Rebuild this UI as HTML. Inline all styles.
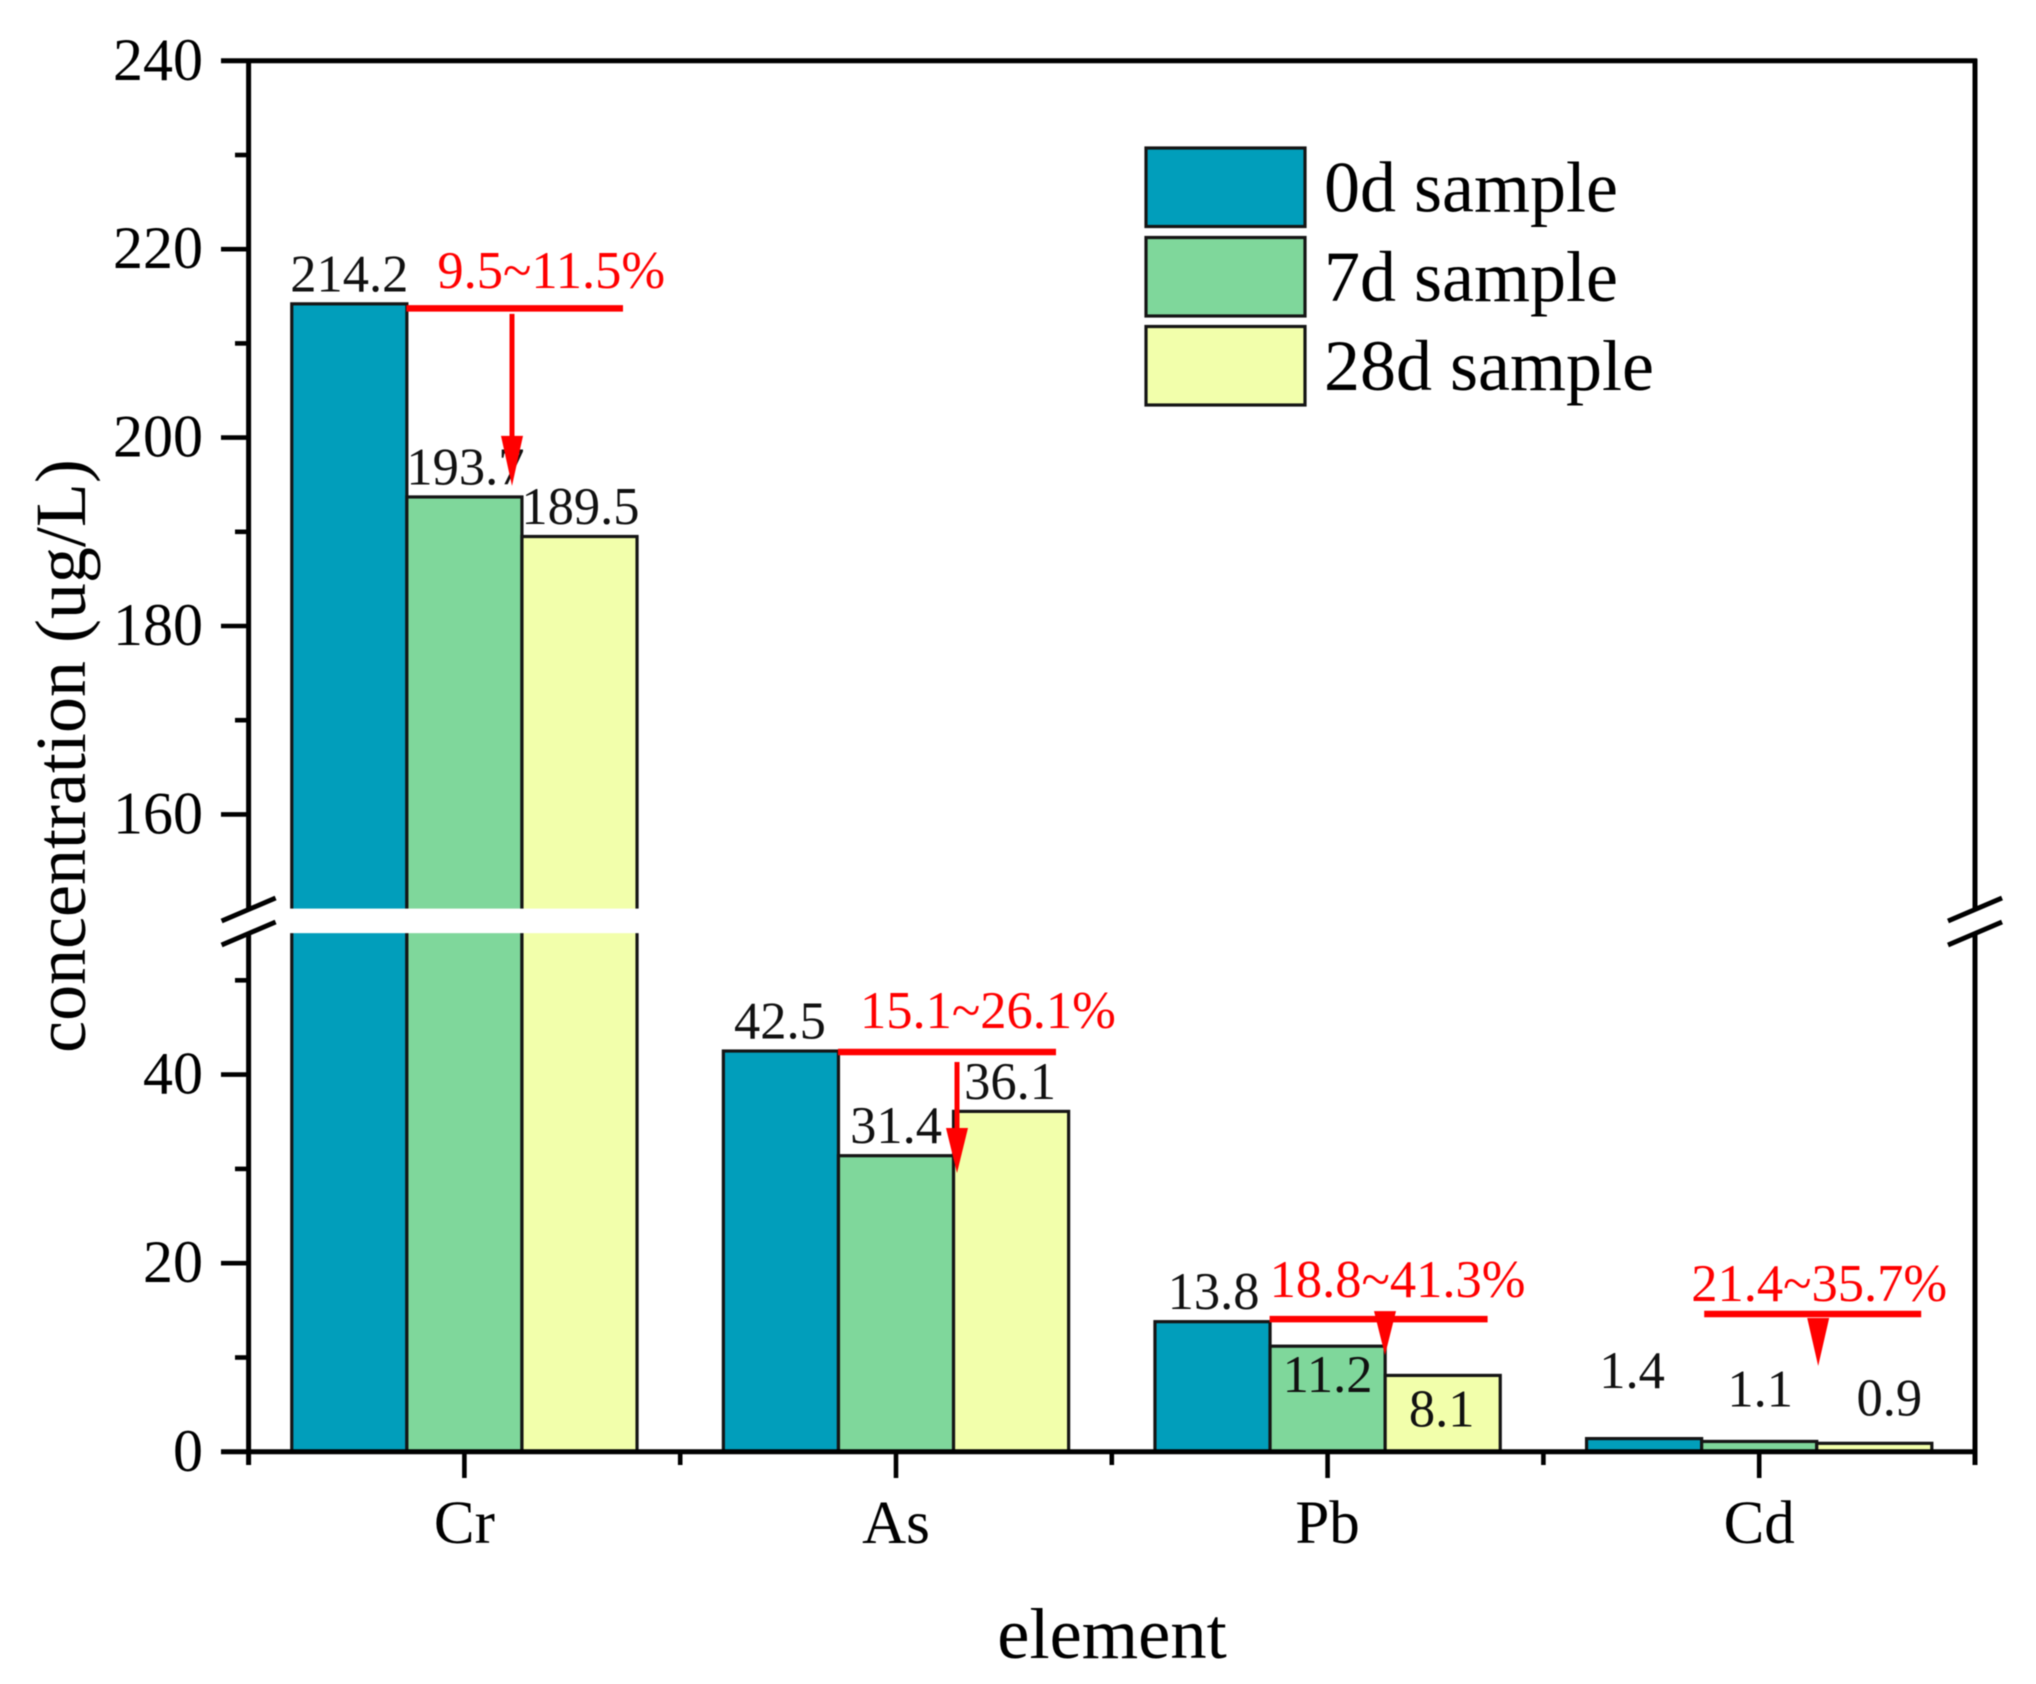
<!DOCTYPE html>
<html lang="en">
<head>
<meta charset="utf-8">
<title>Element concentration by sample age</title>
<style>
  html, body { margin: 0; padding: 0; background: #ffffff; }
  svg { display: block; filter: blur(0.5px); }
  text { font-family: "Liberation Serif", "Times New Roman", serif; fill: #000; }
</style>
</head>
<body>
<svg id="chart" xmlns="http://www.w3.org/2000/svg" width="2036" height="1684" viewBox="0 0 2036 1684">
  <rect x="0" y="0" width="2036" height="1684" fill="#ffffff"/>
  <g id="bars"></g>
  <g id="axes"></g>
  <g id="value-labels"></g>
  <g id="annotations"></g>
  <g id="legend"></g>
  <text x="1112" y="1658" font-size="72.5" text-anchor="middle">element</text>
  <text transform="translate(85,756) rotate(-90)" font-size="72" text-anchor="middle">concentration (ug/L)</text>
</svg>
<script>
// ---- data ----
const categories = ['Cr', 'As', 'Pb', 'Cd'];
const seriesNames = ['0d sample', '7d sample', '28d sample'];
const series0d = [214.2, 42.5, 13.8, 1.4];
const series7d = [193.7, 31.4, 11.2, 1.1];
const series28d = [189.5, 36.1, 8.1, 0.9];
const upperMajorTicks = [240, 220, 200, 180, 160];
const upperMinorTicks = [230, 210, 190, 170];
const lowerMajorTicks = [40, 20, 0];
const lowerMinorTicks = [50, 30, 10];
const reductionLabels = ['9.5~11.5%', '15.1~26.1%', '18.8~41.3%', '21.4~35.7%'];

// ---- layout ----
const NS = 'http://www.w3.org/2000/svg';
const plotLeft = 248.6, plotRight = 1975;
const plotTop = 60.8, plotBottom = 1451.8;
const breakHigh = 150, breakLow = 55;
const upperScale = 9.42, lowerScale = 9.43;
const bandWidth = (plotRight - plotLeft) / categories.length;
const barWidth = bandWidth * 0.8 / 3;
const colors = ['#019ebb', '#7fd79b', '#f2ffab'];
const allSeries = [series0d, series7d, series28d];

function yScale(v) {
  if (v >= breakHigh) return plotTop + (240 - v) * upperScale;
  if (v <= breakLow) return plotBottom - v * lowerScale;
  const a = plotTop + (240 - breakHigh) * upperScale;
  const b = plotBottom - breakLow * lowerScale;
  return a + (breakHigh - v) / (breakHigh - breakLow) * (b - a);
}
function xCenter(i) { return plotLeft + bandWidth * (i + 0.5); }
function barX(i, s) { return xCenter(i) - 1.5 * barWidth + s * barWidth; }

function mk(tag, attrs, parent, text) {
  const e = document.createElementNS(NS, tag);
  for (const k in attrs) e.setAttribute(k, attrs[k]);
  if (text !== undefined) e.textContent = text;
  parent.appendChild(e);
  return e;
}

const barsG = document.getElementById('bars');
const axesG = document.getElementById('axes');
const labelsG = document.getElementById('value-labels');
const annG = document.getElementById('annotations');
const legendG = document.getElementById('legend');

// ---- bars ----
allSeries.forEach(function (vals, s) {
  vals.forEach(function (v, i) {
    const top = yScale(v);
    const bar = mk('rect', { x: barX(i, s), y: top, width: barWidth, height: yScale(0) - top, fill: colors[s], stroke: '#151515', 'stroke-width': 3.2 }, barsG);
    
    
  });
});
// white break band across any bar crossing the axis break
categories.forEach(function (c, i) {
  const tallest = Math.max(series0d[i], series7d[i], series28d[i]);
  if (tallest > breakLow) {
    const band = mk('rect', { x: barX(i, 0) - 4, y: yScale(breakHigh), width: barWidth * 3 + 8, height: yScale(breakLow) - yScale(breakHigh), fill: '#ffffff' }, barsG);
    
    
  }
});

// ---- axes ----
function line(x1, y1, x2, y2, w, name) {
  const l = mk('line', { x1: x1, y1: y1, x2: x2, y2: y2, stroke: '#000', 'stroke-width': w }, axesG);
  
  
  return l;
}
const gapTop = 908, gapBottom = 934, axisEnd = 1465;
line(plotLeft, plotTop - 2, plotLeft, gapTop, 5, 'y-axis-upper');
line(plotLeft, gapBottom, plotLeft, axisEnd, 5, 'y-axis-lower');
line(plotRight, plotTop - 2, plotRight, gapTop, 5, 'right-axis-upper');
line(plotRight, gapBottom, plotRight, axisEnd, 5, 'right-axis-lower');
line(221, plotTop, plotRight + 2, plotTop, 5, 'top-axis');
line(221, plotBottom, plotRight + 2, plotBottom, 5, 'x-axis');

[plotLeft, plotRight].forEach(function (x) {
  line(x - 27, 921, x + 27, 898, 4.8, 'axis-break-slash-upper');
  line(x - 27, 945, x + 27, 922, 4.8, 'axis-break-slash-lower');
});

upperMajorTicks.concat(lowerMajorTicks).forEach(function (v) {
  const y = yScale(v);
  if (v !== 240 && v !== 0) line(221, y, plotLeft, y, 4.6, 'y-tick-' + v);
  const t = mk('text', { x: 203, y: y + 19, 'font-size': 60, 'text-anchor': 'end' }, axesG, String(v));
  
  
});
upperMinorTicks.concat(lowerMinorTicks).forEach(function (v) {
  const y = yScale(v);
  line(235, y, plotLeft, y, 4.6, 'y-minor-tick-' + v);
});

categories.forEach(function (c, i) {
  const cx = xCenter(i);
  line(cx, plotBottom, cx, 1478, 4.6, 'x-tick-' + c.toLowerCase());
  const t = mk('text', { x: cx, y: 1543, 'font-size': 61, 'text-anchor': 'middle' }, axesG, c);
  
  
});
for (let i = 1; i < categories.length; i++) {
  const x = plotLeft + bandWidth * i;
  line(x, plotBottom, x, axisEnd, 4.6, 'x-minor-tick-' + i);
}

// ---- value labels ----
// Placement offset relative to bar centre / bar top, by category then series.
const labelShift = [
  [[0, -12.5], [1, -12.5], [1, -12.5]],
  [[-1, -12.5], [0, -12.5], [-1, -12.5]],
  [[1, -12.5], [0, 46], [-1, 51]],
  [[-12, -50.5], [1, -35], [15, -28]]
];
allSeries.forEach(function (vals, s) {
  vals.forEach(function (v, i) {
    const shift = labelShift[i][s];
    const t = mk('text', { x: barX(i, s) + barWidth / 2 + shift[0], y: yScale(v) + shift[1], 'font-size': 52.5, 'text-anchor': 'middle' }, labelsG, v.toFixed(1));
    
    
    t.style.fill = '#111';
  });
});

// ---- red reduction annotations, anchored to each category's 0d bar ----
const annotationShift = [
  { lineA: -58, lineB: 158.6, lineY: 4.6, arrowX: 47.6, shaftTop: 10, headTop: 132, tip: 182, textX: -27, textY: -16 },
  { lineA: -58, lineB: 160, lineY: 1, arrowX: 61, shaftTop: 11, headTop: 77, tip: 122, textX: -36, textY: -23 },
  { lineA: -58, lineB: 160, lineY: -2.6, arrowX: 57.4, shaftTop: -10.6, headTop: -10.6, tip: 33.4, textX: -58, textY: -24.6 },
  { lineA: -55, lineB: 162, lineY: -124.6, arrowX: 59, shaftTop: -120.6, headTop: -120.6, tip: -72.6, textX: -68, textY: -137.6 }
];
categories.forEach(function (c, i) {
  const cx = xCenter(i), y0 = yScale(series0d[i]), a = annotationShift[i];
  const key = c.toLowerCase();
  const bar = mk('line', { x1: cx + a.lineA, y1: y0 + a.lineY, x2: cx + a.lineB, y2: y0 + a.lineY, stroke: '#ff0000', 'stroke-width': 6.5 }, annG);
  
  
  const ax = cx + a.arrowX;
  if (a.headTop > a.shaftTop) {
    const shaft = mk('line', { x1: ax, y1: y0 + a.shaftTop, x2: ax, y2: y0 + a.headTop + 2, stroke: '#ff0000', 'stroke-width': 5 }, annG);
    
    
  }
  const head = mk('polygon', { points: (ax - 11) + ',' + (y0 + a.headTop) + ' ' + (ax + 11) + ',' + (y0 + a.headTop) + ' ' + ax + ',' + (y0 + a.tip), fill: '#ff0000' }, annG);
  
  
  const t = mk('text', { x: cx + a.textX, y: y0 + a.textY, 'font-size': 52.5 }, annG, reductionLabels[i]);
  
  
  t.style.fill = '#ff0000';
});

// ---- legend ----
const legendTop = [148, 237.5, 326.5];
seriesNames.forEach(function (name, s) {
  const key = name.split(' ')[0];
  const swatch = mk('rect', { x: 1146, y: legendTop[s], width: 159, height: 78.5, fill: colors[s], stroke: '#151515', 'stroke-width': 3.2 }, legendG);
  
  
  const t = mk('text', { x: 1324, y: legendTop[s] + 63.5, 'font-size': 72 }, legendG, name);
  
  
});
</script>
</body>
</html>
